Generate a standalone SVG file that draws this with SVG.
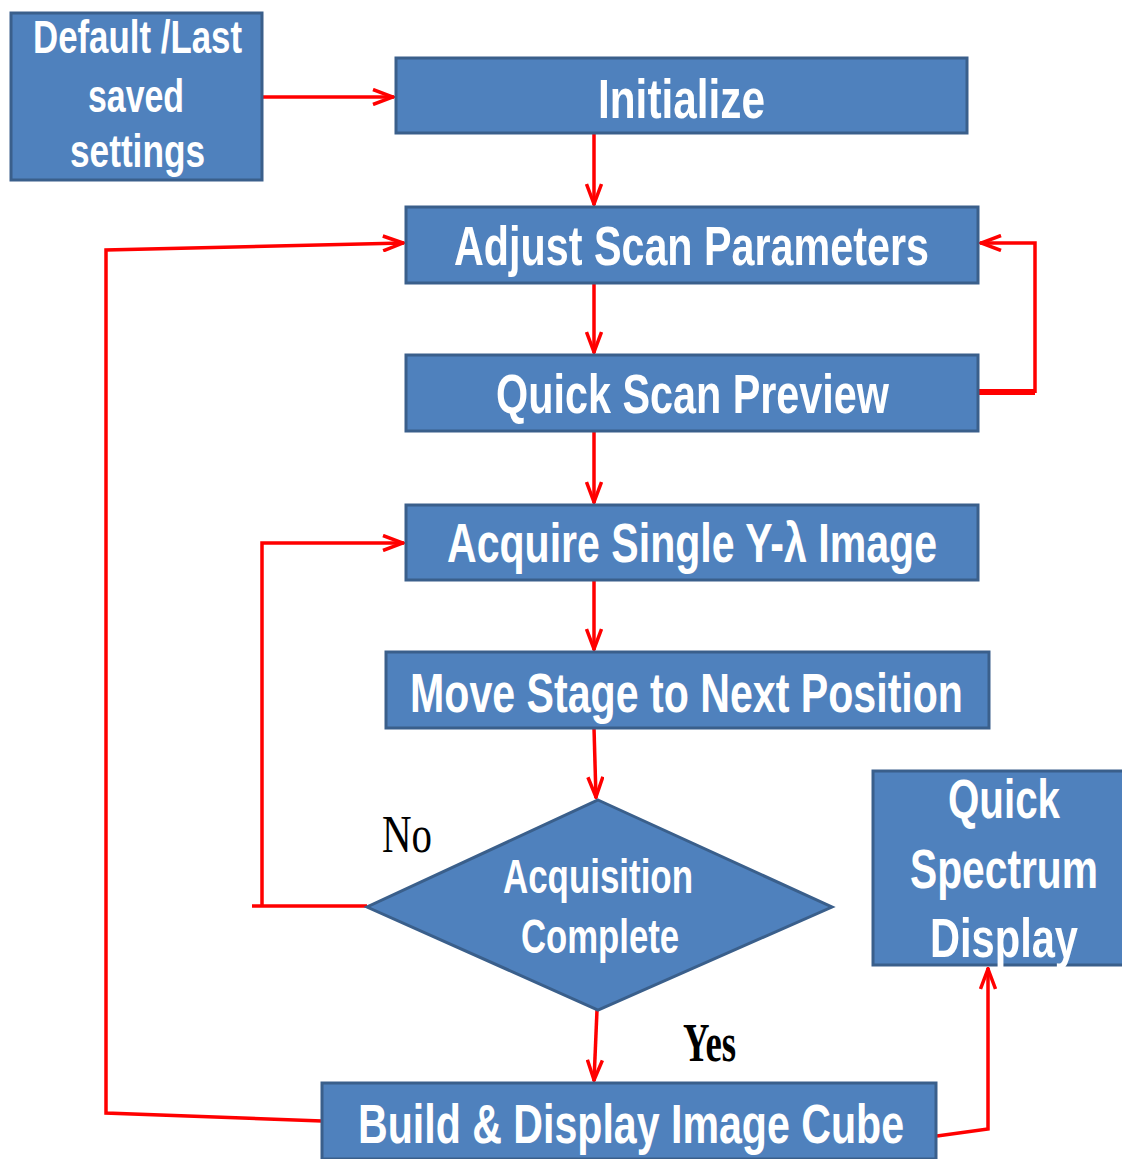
<svg xmlns="http://www.w3.org/2000/svg" width="1122" height="1159" viewBox="0 0 1122 1159">
<style>
.box{fill:#4F81BD;stroke:#3A5F8B;stroke-width:3}
.t{font-family:"Liberation Sans",Arial,sans-serif;font-weight:bold;fill:#fff;font-size:56px}
.e{fill:none;stroke:#FF0000;stroke-width:3.5}
.lbl{font-family:"Liberation Serif","Times New Roman",serif;fill:#000}
</style>
<defs>
<marker id="ah" viewBox="0 0 24 18" refX="23" refY="9" markerWidth="24" markerHeight="18" markerUnits="userSpaceOnUse" orient="auto">
<path d="M2,1.5 L22,9 L2,16.5" fill="none" stroke="#FF0000" stroke-width="3.5"/>
</marker>
</defs>
<rect width="1122" height="1159" fill="#fff"/>
<g id="connectors">
<path class="e" d="M262,97 L394,97" marker-end="url(#ah)"/>
<path class="e" d="M594,133 L594,205" marker-end="url(#ah)"/>
<path class="e" d="M594,283 L594,353" marker-end="url(#ah)"/>
<path class="e" d="M594,431 L594,503" marker-end="url(#ah)"/>
<path class="e" d="M594,580 L594,650" marker-end="url(#ah)"/>
<path class="e" d="M594,728 L596,798" marker-end="url(#ah)"/>
<path class="e" d="M597,1010 L594,1081" marker-end="url(#ah)"/>
<path class="e" d="M978,392 L1035,392" style="stroke-width:6"/>
<path class="e" d="M1035,393 L1035,243 L980,243" marker-end="url(#ah)"/>
<path class="e" d="M367,906 L252,906"/>
<path class="e" d="M262,906 L262,543 L404,543" marker-end="url(#ah)"/>
<path class="e" d="M322,1121 L106,1113 L106,250 L404,243" marker-end="url(#ah)"/>
<path class="e" d="M937,1136 L988,1129 L988,968" marker-end="url(#ah)"/>
</g>
<g id="n-default">
<rect class="box" x="11" y="13" width="251" height="167"/>
<text class="t" x="33" y="53" textLength="209" lengthAdjust="spacingAndGlyphs" style="font-size:46px">Default /Last</text>
<text class="t" x="88" y="112" textLength="96" lengthAdjust="spacingAndGlyphs" style="font-size:46px">saved</text>
<text class="t" x="70" y="167" textLength="135" lengthAdjust="spacingAndGlyphs" style="font-size:46px">settings</text>
</g>
<g id="n-initialize">
<rect class="box" x="396" y="58" width="571" height="75"/>
<text class="t" x="598" y="118" textLength="167" lengthAdjust="spacingAndGlyphs">Initialize</text>
</g>
<g id="n-adjust">
<rect class="box" x="406" y="207" width="572" height="76"/>
<text class="t" x="454" y="265" textLength="475" lengthAdjust="spacingAndGlyphs">Adjust Scan Parameters</text>
</g>
<g id="n-quickscan">
<rect class="box" x="406" y="355" width="572" height="76"/>
<text class="t" x="496" y="413" textLength="393" lengthAdjust="spacingAndGlyphs">Quick Scan Preview</text>
</g>
<g id="n-acquire">
<rect class="box" x="406" y="505" width="572" height="75"/>
<text class="t" x="447" y="562" textLength="490" lengthAdjust="spacingAndGlyphs">Acquire Single Y-λ Image</text>
</g>
<g id="n-move">
<rect class="box" x="386" y="652" width="603" height="76"/>
<text class="t" x="410" y="712" textLength="553" lengthAdjust="spacingAndGlyphs">Move Stage to Next Position</text>
</g>
<g id="n-decision">
<polygon class="box" points="598,800 832,907 598,1010 367,907"/>
<text class="t" x="503" y="893" textLength="190" lengthAdjust="spacingAndGlyphs" style="font-size:48px">Acquisition</text>
<text class="t" x="521" y="953" textLength="158" lengthAdjust="spacingAndGlyphs" style="font-size:48px">Complete</text>
</g>
<g id="n-spectrum">
<rect class="box" x="873" y="771" width="260" height="194"/>
<text class="t" x="948" y="818" textLength="112" lengthAdjust="spacingAndGlyphs">Quick</text>
<text class="t" x="910" y="888" textLength="188" lengthAdjust="spacingAndGlyphs">Spectrum</text>
<text class="t" x="930" y="957" textLength="148" lengthAdjust="spacingAndGlyphs">Display</text>
</g>
<g id="n-build">
<rect class="box" x="322" y="1083" width="614" height="76"/>
<text class="t" x="358" y="1143" textLength="546" lengthAdjust="spacingAndGlyphs">Build &amp; Display Image Cube</text>
</g>
<g id="labels">
<text class="lbl" x="382" y="852" textLength="50" lengthAdjust="spacingAndGlyphs" style="font-size:52px">No</text>
<text class="lbl" x="683" y="1061" textLength="53" lengthAdjust="spacingAndGlyphs" style="font-size:54px;font-weight:bold">Yes</text>
</g>
</svg>
